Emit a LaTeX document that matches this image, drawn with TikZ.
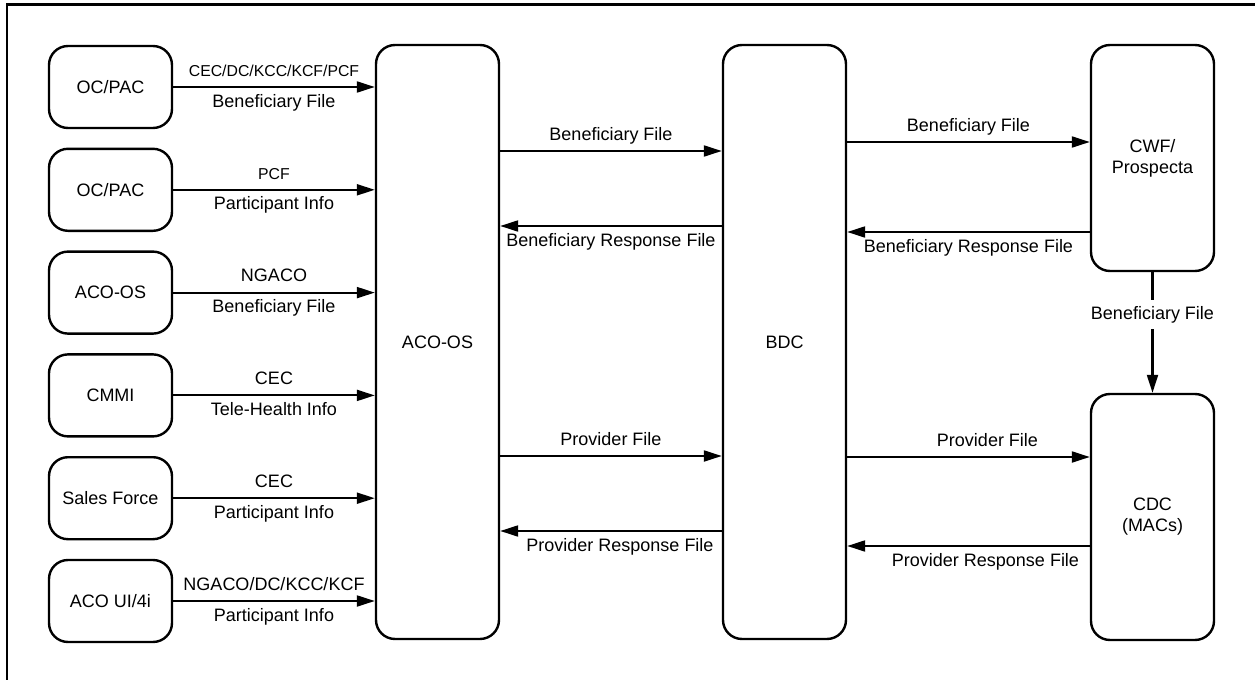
\documentclass[tikz,border=0pt]{standalone}
\usepackage{fontspec}
\setmainfont{Liberation Sans}
\usepackage{tikz}
\usetikzlibrary{arrows.meta,positioning}

\begin{document}
\begin{tikzpicture}[
      x=0.5pt, y=-0.5pt,
      node distance=9.2pt,
      box/.style={rectangle, rounded corners=9.5pt, draw=black, line width=1.2pt,
                  align=center, minimum width=61.5pt, font=\fontsize{9}{10.5}\selectfont},
      src/.style={box, minimum height=41pt},
      lbl/.style={font=\fontsize{9}{10}\selectfont, inner sep=3pt, text height=6.5pt, text depth=1.8pt},
      sml/.style={lbl, font=\fontsize{7.9}{9}\selectfont, text height=5.7pt, text depth=1.6pt},
      arr/.style={-{Triangle[length=9pt,width=5.5pt]}, line width=1.05pt}
    ]
    \useasboundingbox (0,0) rectangle (1255,680);
    \draw[line width=1.1pt] (7,680) -- (7,4.5) -- (1255,4.5);

    \node[src] (op1) at (110.5,87) {OC/PAC};
    \node[src,below=of op1] (op2) {OC/PAC};
    \node[src,below=of op2] (aos) {ACO-OS};
    \node[src,below=of aos] (cmmi) {CMMI};
    \node[src,below=of cmmi] (sf) {Sales Force};
    \node[src,below=of sf] (ui) {ACO UI/4i};

    \node[box,minimum height=297pt] (aco) at (437.5,342) {ACO-OS};
    \node[box,minimum height=297pt] (bdc) at (784.5,342) {BDC};
    \node[box,minimum height=113pt] (cwf) at (1152.5,158) {CWF/\\Prospecta};
    \node[box,minimum height=123pt] (cdc) at (1152.5,517) {CDC\\(MACs)};

    \draw[arr] (op1) -- (op1 -| aco.west) node[midway,above,sml] {CEC/DC/KCC/KCF/PCF} node[midway,below,lbl] {Beneficiary File};
    \draw[arr] (op2) -- (op2 -| aco.west) node[midway,above,sml] {PCF} node[midway,below,lbl] {Participant Info};
    \draw[arr] (aos) -- (aos -| aco.west) node[midway,above,lbl] {NGACO} node[midway,below,lbl] {Beneficiary File};
    \draw[arr] (cmmi) -- (cmmi -| aco.west) node[midway,above,lbl] {CEC} node[midway,below,lbl] {Tele-Health Info};
    \draw[arr] (sf) -- (sf -| aco.west) node[midway,above,lbl] {CEC} node[midway,below,lbl] {Participant Info};
    \draw[arr] (ui) -- (ui -| aco.west) node[midway,above,lbl] {NGACO/DC/KCC/KCF} node[midway,below,lbl] {Participant Info};

    \draw[arr] (aco.east |- 0,151) -- (bdc.west |- 0,151) node[midway,above,lbl] {Beneficiary File};
    \draw[arr] (bdc.west |- 0,226) -- (aco.east |- 0,226) node[midway,below,lbl] {Beneficiary Response File};
    \draw[arr] (aco.east |- 0,456) -- (bdc.west |- 0,456) node[midway,above,lbl] {Provider File};
    \draw[arr] (bdc.west |- 0,531) -- (aco.east |- 0,531) node[midway,below,lbl,xshift=4.5pt] {Provider Response File};

    \draw[arr] (bdc.east |- 0,142) -- (cwf.west |- 0,142) node[midway,above,lbl] {Beneficiary File};
    \draw[arr] (cwf.west |- 0,232) -- (bdc.east |- 0,232) node[midway,below,lbl] {Beneficiary Response File};
    \draw[arr] (bdc.east |- 0,457) -- (cdc.west |- 0,457) node[midway,above,lbl,xshift=9.5pt] {Provider File};
    \draw[arr] (cdc.west |- 0,546) -- (bdc.east |- 0,546) node[midway,below,lbl,xshift=8.5pt] {Provider Response File};
    \draw[arr] (cwf) -- (cdc) node[pos=0.35,lbl,fill=white] {Beneficiary File};
  \end{tikzpicture}
\end{document}
